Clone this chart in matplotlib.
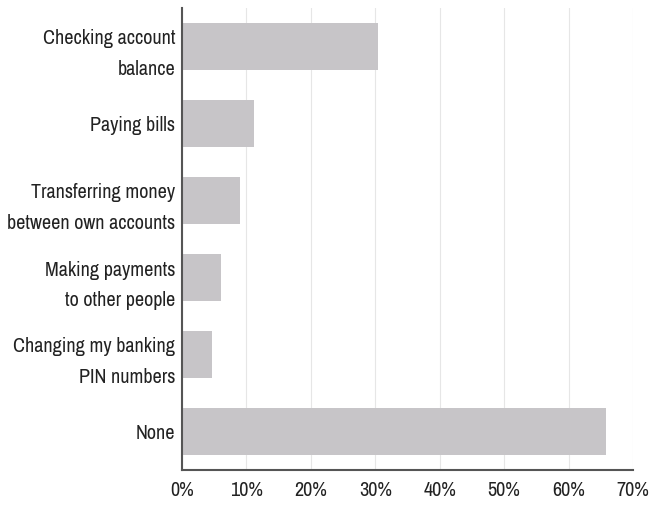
import matplotlib
matplotlib.use("Agg")
import matplotlib.pyplot as plt
from matplotlib.ticker import FuncFormatter
from matplotlib import font_manager

# Survey answers and their shares (percent)
categories = [
    "Checking account\nbalance",
    "Paying bills",
    "Transferring money\nbetween own accounts",
    "Making payments\nto other people",
    "Changing my banking\nPIN numbers",
    "None",
]
shares = [30.4, 11.2, 9.0, 6.0, 4.7, 65.8]
x_ticks = [0, 10, 20, 30, 40, 50, 60, 70]

# pick a condensed face if one is installed
names = sorted({f.name for f in font_manager.fontManager.ttflist})
narrow = [n for n in names if 'Narrow' in n or 'Condensed' in n]
plt.rcParams['font.family'] = narrow[:1] + ['Liberation Sans', 'DejaVu Sans']
label_size = 14.5 if narrow else 12.5
tick_size = 14.5 if narrow else 12.5

fig = plt.figure(figsize=(6.55, 5.07), dpi=100)
ax = fig.add_axes([182 / 655, 37 / 507, 451 / 655, 462 / 507])

ax.set_axisbelow(True)
ax.grid(axis='x', color='#e6e6e6', linewidth=0.8)
ax.barh(range(len(categories)), shares, height=0.62, color='#c7c5c8')

ax.set_yticks(range(len(categories)))
ax.set_yticklabels(categories, fontsize=label_size, color='#222222', linespacing=1.75)
ax.set_ylim(5.5, -0.5)

ax.set_xlim(0, 70)
ax.set_xticks(x_ticks)
ax.xaxis.set_major_formatter(FuncFormatter(lambda v, p: f"{int(v)}%"))
ax.tick_params(axis='x', labelsize=tick_size, colors='#222222', length=0, pad=8)
ax.tick_params(axis='y', length=0, pad=5)

for side in ['top', 'right']:
    ax.spines[side].set_visible(False)
for side in ['left', 'bottom']:
    ax.spines[side].set_color('#555555')
    ax.spines[side].set_linewidth(1.5)

fig.savefig("out.png", dpi=100)
